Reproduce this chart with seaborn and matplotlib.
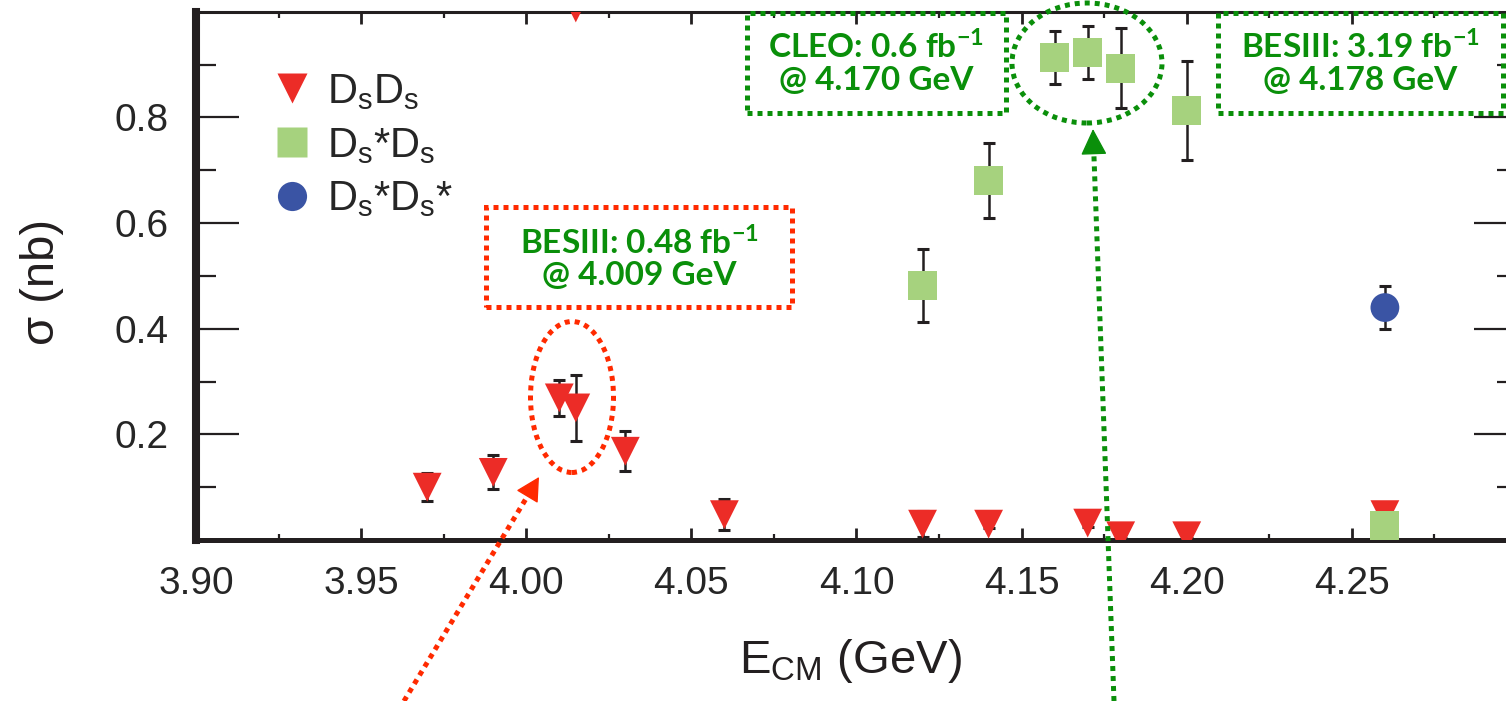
import numpy as np
import pandas as pd
import seaborn as sns
import matplotlib.pyplot as plt
from matplotlib.lines import Line2D
from matplotlib.patches import Rectangle, Ellipse

# cross sections (nb) vs E_CM (GeV)
dsds_E = [3.97, 3.99, 4.01, 4.015, 4.015, 4.03, 4.06, 4.12, 4.14, 4.17, 4.18, 4.20, 4.26]
dsds_sig = [0.100, 0.128, 0.269, 0.250, 1.007, 0.168, 0.048, 0.030, 0.030, 0.032, 0.008, 0.008, 0.048]
dsds_err = [0.027, 0.032, 0.034, 0.062, 0.0, 0.038, 0.029, 0.025, 0.008, 0.008, 0.004, 0.004, 0.008]

dsstds_E = [4.12, 4.14, 4.16, 4.17, 4.18, 4.20, 4.26]
dsstds_sig = [0.481, 0.681, 0.913, 0.923, 0.893, 0.813, 0.028]
dsstds_err = [0.069, 0.071, 0.050, 0.050, 0.076, 0.093, 0.008]

dsstdsst_E = [4.26]
dsstdsst_sig = [0.440]
dsstdsst_err = [0.041]

channels = ['D$_\\mathrm{s}$D$_\\mathrm{s}$', 'D$_\\mathrm{s}$*D$_\\mathrm{s}$', 'D$_\\mathrm{s}$*D$_\\mathrm{s}$*']
colors = ['#ec2c27', '#a6d27e', '#3a54a4']
marks = ['v', 's', 'o']

x_ticks = [3.90, 3.95, 4.00, 4.05, 4.10, 4.15, 4.20, 4.25]
y_ticks = [0.2, 0.4, 0.6, 0.8]

df = pd.concat([
    pd.DataFrame({'E': dsds_E, 'sigma': dsds_sig, 'err': dsds_err, 'channel': channels[0]}),
    pd.DataFrame({'E': dsstds_E, 'sigma': dsstds_sig, 'err': dsstds_err, 'channel': channels[1]}),
    pd.DataFrame({'E': dsstdsst_E, 'sigma': dsstdsst_sig, 'err': dsstdsst_err, 'channel': channels[2]}),
], ignore_index=True)

sns.set_style('ticks')
plt.rcParams['font.family'] = ['Liberation Sans', 'DejaVu Sans']
plt.rcParams['mathtext.fontset'] = 'custom'
plt.rcParams['mathtext.rm'] = 'Liberation Sans'
plt.rcParams['mathtext.it'] = 'Liberation Sans'
plt.rcParams['mathtext.bf'] = 'Lato:bold'

W, H = 1506, 701
fig = plt.figure(figsize=(W / 100, H / 100), dpi=100)


def fx(x):
    return x / W


def fy(y):
    return 1 - y / H


ax = fig.add_axes([fx(196), fy(540), fx(1517) - fx(196), fy(11.7) - fy(540)])

ax.errorbar(df['E'], df['sigma'], yerr=df['err'], fmt='none', ecolor='#231f20',
            elinewidth=1.8, capsize=4.3, capthick=2.2, zorder=1)
sns.scatterplot(data=df, x='E', y='sigma', hue='channel', style='channel',
                hue_order=channels, style_order=channels,
                palette=dict(zip(channels, colors)), markers=dict(zip(channels, marks)),
                s=430, linewidth=0, legend=False, ax=ax, zorder=3)

ax.set_xlim(3.90, 4.30)
ax.set_ylim(0, 1.0)
ax.set_xticks(x_ticks)
ax.set_xticks(np.array(x_ticks) + 0.025, minor=True)
ax.set_xticklabels(['%.2f' % v for v in x_ticks])
ax.set_yticks(y_ticks)
ax.set_yticks([0.1, 0.3, 0.5, 0.7, 0.9], minor=True)
ax.set_yticklabels(['%.1f' % v for v in y_ticks])
ax.set_xlabel('')
ax.set_ylabel('')

ax.tick_params(axis='x', which='both', direction='in', top=True, bottom=True,
               color='#231f20', labelsize=28, pad=19)
ax.tick_params(axis='x', which='major', length=8.5, width=2)
ax.tick_params(axis='x', which='minor', length=4.3, width=1.6)
ax.tick_params(axis='y', which='both', direction='in', left=True, right=True,
               color='#231f20', labelsize=28, pad=20)
ax.tick_params(axis='y', which='major', length=31, width=1.6)
ax.tick_params(axis='y', which='minor', length=14.5, width=1.6)

for side, lw in [('left', 5.8), ('bottom', 3.6), ('top', 2.2), ('right', 2.2)]:
    ax.spines[side].set_linewidth(lw)
    ax.spines[side].set_color('#231f20')

fig.text(fx(850), fy(673), 'E$_\\mathrm{CM}$ (GeV)', ha='center', va='baseline', fontsize=34, color='#231f20')
fig.text(fx(42), fy(282), '\u03c3 (nb)', ha='center', va='center', rotation=90, fontsize=34, color='#231f20')

handles = [Line2D([], [], ls='none', marker=m, ms=21, mfc=c, mec='none') for m, c in zip(marks, colors)]
ax.legend(handles, channels, loc='upper left', bbox_to_anchor=(fx(275), fy(72)),
          bbox_transform=fig.transFigure, frameon=False, fontsize=30, handlelength=0.8,
          handletextpad=0.45, labelspacing=0.33, borderpad=0, borderaxespad=0)

# annotations
red = '#ff2a00'
green = '#0a8f0a'
dots = (0, (1, 1))

fig.add_artist(Rectangle((fx(486), fy(307)), fx(792) - fx(486), fy(207) - fy(307),
                         transform=fig.transFigure, fill=False, ec=red, lw=3.6, ls=dots))
fig.add_artist(Rectangle((fx(747), fy(113)), fx(1006) - fx(747), fy(13) - fy(113),
                         transform=fig.transFigure, fill=False, ec=green, lw=3.6, ls=dots))
fig.add_artist(Rectangle((fx(1218), fy(113)), fx(1503) - fx(1218), fy(13) - fy(113),
                         transform=fig.transFigure, fill=False, ec=green, lw=3.6, ls=dots))

fig.add_artist(Ellipse((fx(572), fy(397)), fx(83), 151 / H, transform=fig.transFigure,
                       fill=False, ec=red, lw=3.6, ls=dots))
fig.add_artist(Ellipse((fx(1087), fy(63)), fx(150), 120 / H, transform=fig.transFigure,
                       fill=False, ec=green, lw=3.6, ls=dots))

box_texts = [
    (639, 254, 285, 'BESIII: 0.48 fb$^{\\mathbf{-1}}$', '@ 4.009 GeV'),
    (876, 58, 90, 'CLEO: 0.6 fb$^{\\mathbf{-1}}$', '@ 4.170 GeV'),
    (1360, 58, 90, 'BESIII: 3.19 fb$^{\\mathbf{-1}}$', '@ 4.178 GeV'),
]
for x, y1, y2, t1, t2 in box_texts:
    fig.text(fx(x), fy(y1), t1, ha='center', va='baseline', fontsize=24,
             fontweight='bold', family='Lato', color=green)
    fig.text(fx(x), fy(y2), t2, ha='center', va='baseline', fontsize=24,
             fontweight='bold', family='Lato', color=green)

# dotted arrow shafts and solid heads (figure pixels, y from top)
arrows = [
    (red, (404, 701), (528.2, 495), (539, 477), 1.5, 0.8),
    (green, (1114, 701), (1093.8, 152), (1093, 129), 1.66, 0.83),
]
for c, tail, base, tip, hl, hw in arrows:
    fig.add_artist(Line2D([fx(tail[0]), fx(base[0])], [fy(tail[1]), fy(base[1])],
                          transform=fig.transFigure, lw=3.6, ls=dots, color=c))
    ax.annotate('', xy=(tip[0], H - tip[1]), xycoords='figure pixels',
                xytext=(base[0], H - base[1]), textcoords='figure pixels', annotation_clip=False,
                arrowprops=dict(arrowstyle='-|>,head_length=%g,head_width=%g' % (hl, hw),
                                mutation_scale=10, lw=1, color=c, shrinkA=0, shrinkB=0))

fig.savefig('out.png', dpi=100)
